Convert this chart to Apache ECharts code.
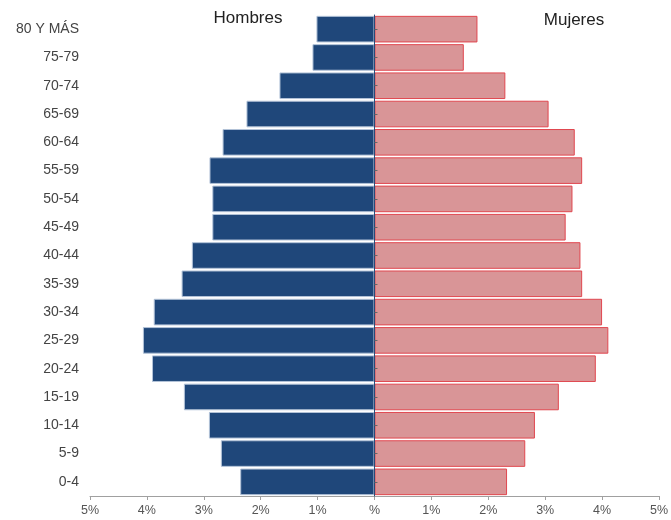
<!DOCTYPE html>
<html>
<head>
<meta charset="utf-8">
<script src="https://cdn.jsdelivr.net/npm/echarts@6/dist/echarts.min.js"></script>
<style>
html,body{margin:0;padding:0;background:#fff;}
#chart{width:671px;height:520px;}
</style>
</head>
<body>
<div id="chart"></div>
<script>
const categories = ['0-4','5-9','10-14','15-19','20-24','25-29','30-34','35-39','40-44','45-49','50-54','55-59','60-64','65-69','70-74','75-79','80 Y MÁS'];
const hombres = [2.36, 2.70, 2.91, 3.35, 3.91, 4.07, 3.88, 3.39, 3.21, 2.85, 2.85, 2.90, 2.67, 2.25, 1.67, 1.09, 1.02];
const mujeres = [2.33, 2.65, 2.82, 3.24, 3.89, 4.11, 4.00, 3.65, 3.62, 3.36, 3.48, 3.65, 3.52, 3.06, 2.30, 1.57, 1.81];
const xTicks = [-5, -4, -3, -2, -1, 0, 1, 2, 3, 4, 5];
const seriesNames = ['Hombres', 'Mujeres'];

const chart = echarts.init(document.getElementById('chart'));
const font = 'Liberation Sans, Arial, sans-serif';
chart.setOption({
  animation: false,
  backgroundColor: '#fff',
  title: [
    {text: seriesNames[0], left: 243, top: 5, textAlign: 'center',
     textStyle: {fontFamily: font, fontSize: 17, fontWeight: 'normal', color: '#222'}},
    {text: seriesNames[1], left: 569, top: 7, textAlign: 'center',
     textStyle: {fontFamily: font, fontSize: 17, fontWeight: 'normal', color: '#222'}}
  ],
  grid: {left: 90, right: 7, top: 15, bottom: 24, containLabel: false},
  xAxis: {
    type: 'value', min: xTicks[0], max: xTicks[xTicks.length - 1], interval: 1,
    axisLine: {show: true, lineStyle: {color: '#a0a0a0', width: 1}},
    axisTick: {show: true, length: 4, lineStyle: {color: '#a0a0a0'}},
    splitLine: {show: false},
    axisLabel: {
      fontFamily: font, fontSize: 12.5, color: '#555', margin: 8,
      formatter: v => v === 0 ? '%' : Math.abs(v) + '%'
    }
  },
  yAxis: [
    {
      type: 'category', data: categories, position: 'left',
      axisLine: {show: false, onZero: false}, axisTick: {show: false},
      axisLabel: {fontFamily: font, fontSize: 14, color: '#444', margin: 11}
    },
    {
      type: 'category', data: categories, position: 'left', z: 5,
      axisLine: {show: true, onZero: true, lineStyle: {color: '#2a4a78', width: 1}},
      axisTick: {show: true, inside: true, alignWithLabel: true, length: 3, lineStyle: {color: '#666'}},
      axisLabel: {show: false}
    }
  ],
  series: [
    {
      name: seriesNames[0], type: 'bar', stack: 'pop', yAxisIndex: 0,
      data: hombres.map(v => -v),
      barCategoryGap: '6%',
      itemStyle: {color: '#1f477a', borderColor: '#b3c3d8', borderWidth: 1}
    },
    {
      name: seriesNames[1], type: 'bar', stack: 'pop', yAxisIndex: 0,
      data: mujeres,
      barCategoryGap: '6%',
      itemStyle: {color: '#d99597', borderColor: '#e0474f', borderWidth: 1}
    }
  ]
});
</script>
</body>
</html>
